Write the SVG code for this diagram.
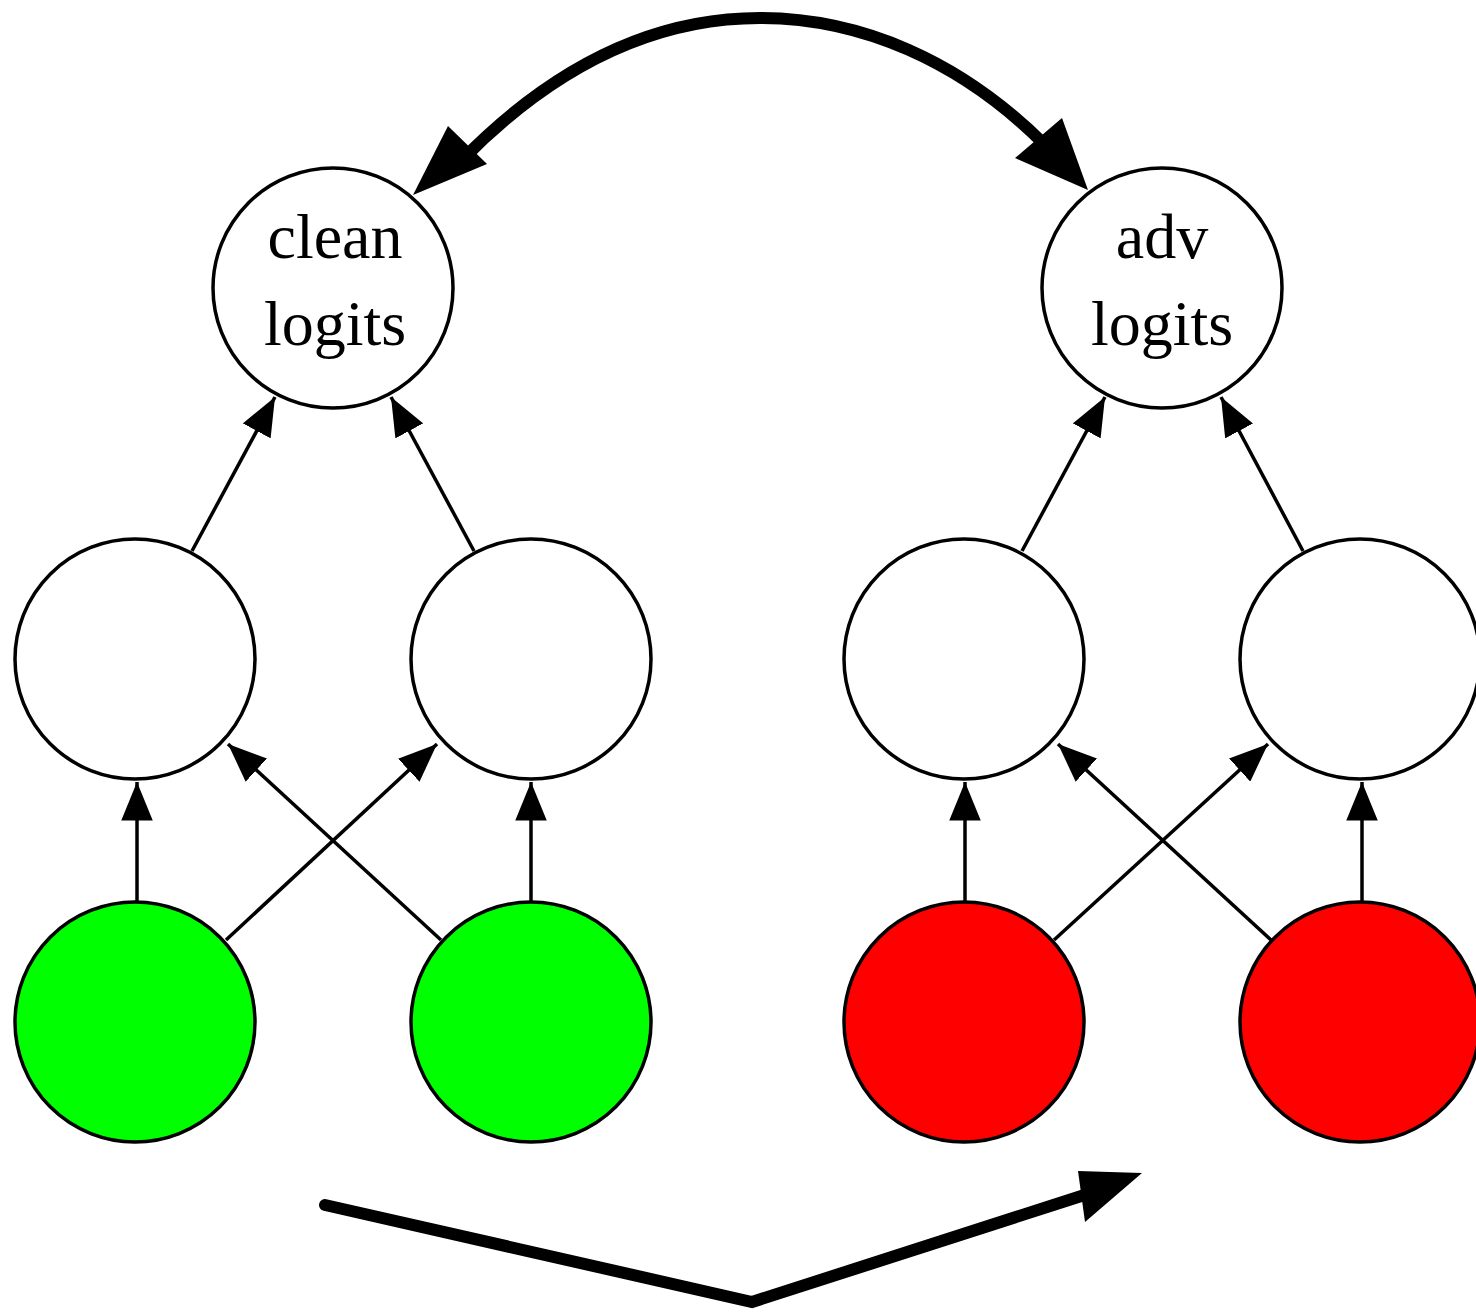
<svg xmlns="http://www.w3.org/2000/svg" width="1476" height="1313" viewBox="0 0 1476 1313">
<style>
.n{fill:#fff;stroke:#000;stroke-width:3.5}
.g{fill:#00ff00;stroke:#000;stroke-width:3.5}
.r{fill:#ff0000;stroke:#000;stroke-width:3.5}
.e{stroke:#000;stroke-width:3.5;fill:none;marker-end:url(#ah)}
.t{font-family:"Liberation Serif","DejaVu Serif",serif;font-size:64px;text-anchor:middle;fill:#000}
.big{stroke:#000;stroke-width:12;fill:none}
</style>
<defs>
<marker id="ah" markerWidth="11" markerHeight="9" refX="11" refY="4.5" orient="auto" markerUnits="strokeWidth">
<path d="M0,0 L11,4.5 L0,9 z" fill="#000"/>
</marker>
</defs>
<g id="clean_logits"><circle class="n" cx="333" cy="288" r="120"/><text class="t" x="335" y="258">clean</text><text class="t" x="335" y="345">logits</text></g>
<g id="adv_logits"><circle class="n" cx="1162" cy="288" r="120"/><text class="t" x="1162" y="258">adv</text><text class="t" x="1162" y="345">logits</text></g>
<g id="h1"><circle class="n" cx="135" cy="659" r="120"/></g>
<g id="h2"><circle class="n" cx="531" cy="659" r="120"/></g>
<g id="h3"><circle class="n" cx="964" cy="659" r="120"/></g>
<g id="h4"><circle class="n" cx="1360" cy="659" r="120"/></g>
<g id="c1"><circle class="g" cx="135" cy="1022" r="120"/></g>
<g id="c2"><circle class="g" cx="531" cy="1022" r="120"/></g>
<g id="a1"><circle class="r" cx="964" cy="1022" r="120"/></g>
<g id="a2"><circle class="r" cx="1360" cy="1022" r="120"/></g>
<g id="connectors">
<line class="e" x1="192" y1="551" x2="275" y2="397"/>
<line class="e" x1="474" y1="551" x2="391" y2="397"/>
<line class="e" x1="1022" y1="551" x2="1105" y2="397"/>
<line class="e" x1="1303" y1="551" x2="1221" y2="397"/>
<line class="e" x1="137" y1="903" x2="137" y2="782"/>
<line class="e" x1="531" y1="903" x2="531" y2="782"/>
<line class="e" x1="226" y1="940" x2="437" y2="744"/>
<line class="e" x1="441" y1="940" x2="228" y2="744"/>
<line class="e" x1="965" y1="903" x2="965" y2="782"/>
<line class="e" x1="1362" y1="903" x2="1362" y2="782"/>
<line class="e" x1="1054" y1="940" x2="1268" y2="744"/>
<line class="e" x1="1271" y1="940" x2="1058" y2="744"/>
<path class="big" d="M462 160 C560 60 660 18 760 18 C860 18 960 60 1045 145"/>
<polygon points="413,195 448,126 487,164" fill="#000"/>
<polygon points="1088,190 1062,118 1015,158" fill="#000"/>
<polyline class="big" points="325,1205 752,1302 1100,1190" stroke-linecap="round" stroke-linejoin="miter"/>
<polygon points="1142,1173 1078,1171 1085,1222" fill="#000"/>
</g>
</svg>
